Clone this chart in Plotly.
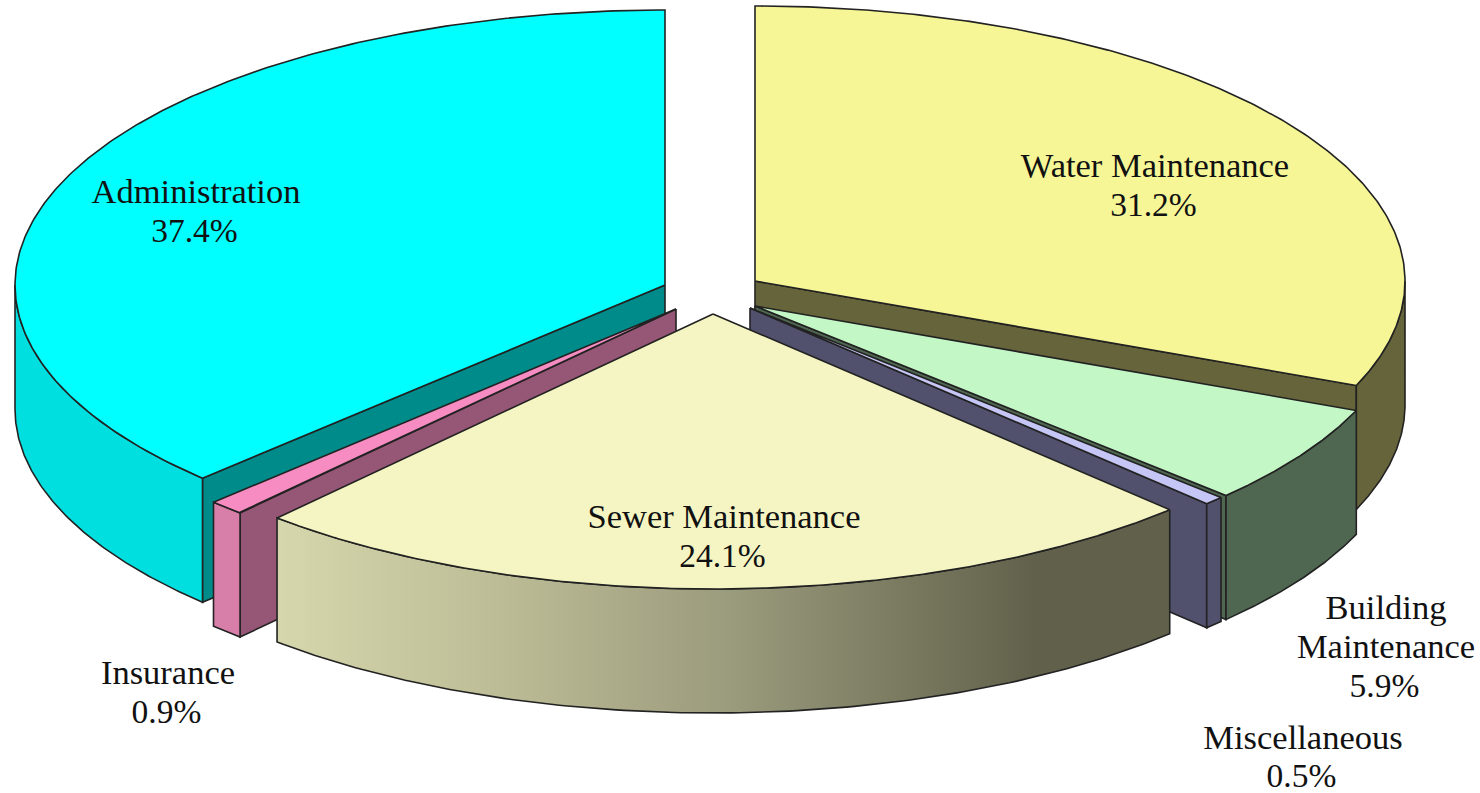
import numpy as np
import plotly.graph_objects as go

# Budget shares, clockwise from twelve o'clock
categories = ["Water Maintenance", "Building Maintenance", "Miscellaneous",
              "Sewer Maintenance", "Insurance", "Administration"]
shares = [31.2, 5.9, 0.5, 24.1, 0.9, 37.4]

# Label lines (the share is appended as the last line of each label)
label_lines = [["Water Maintenance"], ["Building", "Maintenance"], ["Miscellaneous"],
               ["Sewer Maintenance"], ["Insurance"], ["Administration"]]
label_anchor = [(1155, 168.5), (1386, 610.5), (1303, 740), (724, 519.5), (168, 675.5), (196, 194.5)]

# Styling per slice
top_colors = ["#f6f696", "#c3f7c5", "#c6c6f6", "#f5f5c3", "#f68cc1", "#00ffff"]
rim_colors = ["#66643b", "#4f6751", "#51516d", None, "#d77ea9", "#00dfdf"]
face_colors = ["#66643b", "#4f6751", "#51516d", None, "#965676", "#008b8b"]
sewer_gradient = [[0.0, "#d7d7ad"], [0.25, "#bcbc96"], [0.5, "#9c9c7e"],
                  [0.85, "#61614b"], [1.0, "#61614b"]]

# Projection of the tilted pie, in page pixels
RX, RY, DEPTH = 650, 275, 124
CENTRE = (710, 295)
PULL = [(45, -14), (45, 11), (40, 13), (3, 19), (-34, 14), (-45, -10)]
EDGE = dict(color="#222222", width=1.6)
DRAW_ORDER = ["Administration", "Water Maintenance", "Building Maintenance",
              "Miscellaneous", "Insurance", "Sewer Maintenance"]
NAME_SIZE, SHARE_SIZE, LEADING = 34.5, 33.5, 39


def rim(apex, t0, t1, n=120):
    t = np.radians(np.linspace(t0, t1, n))
    return apex[0] + RX * np.sin(t), apex[1] - RY * np.cos(t)


def polygon(xs, ys, **style):
    return go.Scatter(x=list(xs) + [xs[0]], y=list(ys) + [ys[0]], mode="lines",
                      fill="toself", line=EDGE, hoverinfo="skip", showlegend=False, **style)


def label(x, y, text, size):
    return go.Scatter(x=[x], y=[y], mode="text", text=[text], textposition="middle center",
                      textfont=dict(family="Liberation Serif", size=size, color="#111111"),
                      cliponaxis=False, hoverinfo="skip", showlegend=False)


fractions = np.cumsum([0] + shares) / sum(shares) * 360
fig = go.Figure()

for name in DRAW_ORDER:
    i = categories.index(name)
    t0, t1 = fractions[i], fractions[i + 1]
    apex = (CENTRE[0] + PULL[i][0], CENTRE[1] + PULL[i][1])

    # Radial cut faces that turn towards the viewer
    for t, visible in ((t1, t1 < 180), (t0, t0 > 180)):
        if visible:
            ex, ey = rim(apex, t, t, 1)
            fig.add_trace(polygon([apex[0], ex[0], ex[0], apex[0]],
                                  [apex[1], ey[0], ey[0] + DEPTH, apex[1] + DEPTH],
                                  fillcolor=face_colors[i]))

    # Outer wall on the front half of the ellipse
    w0, w1 = max(t0, 90), min(t1, 270)
    if w1 > w0:
        wx, wy = rim(apex, w0, w1)
        xs = np.concatenate([wx, wx[::-1]])
        ys = np.concatenate([wy, wy[::-1] + DEPTH])
        if rim_colors[i] is None:
            fig.add_trace(polygon(xs, ys, fillgradient=dict(type="horizontal",
                                                            colorscale=sewer_gradient)))
        else:
            fig.add_trace(polygon(xs, ys, fillcolor=rim_colors[i]))

    # Top surface
    tx, ty = rim(apex, t0, t1, 240)
    fig.add_trace(polygon(np.concatenate([[apex[0]], tx]), np.concatenate([[apex[1]], ty]),
                          fillcolor=top_colors[i]))

# Labels: one text mark per line, keeps the tight leading
for lines, anchor, share in zip(label_lines, label_anchor, shares):
    for k, text in enumerate(lines):
        fig.add_trace(label(anchor[0], anchor[1] + k * LEADING, text, NAME_SIZE))
    fig.add_trace(label(anchor[0] - 1.5, anchor[1] + len(lines) * LEADING, f"{share}%", SHARE_SIZE))

fig.update_xaxes(range=[0, 1480], visible=False, fixedrange=True)
fig.update_yaxes(range=[793, 0], visible=False, fixedrange=True)
fig.update_layout(width=1480, height=793, margin=dict(l=0, r=0, t=0, b=0),
                  paper_bgcolor="white", plot_bgcolor="white")

fig.write_html("out.html", config=dict(displayModeBar=False))
